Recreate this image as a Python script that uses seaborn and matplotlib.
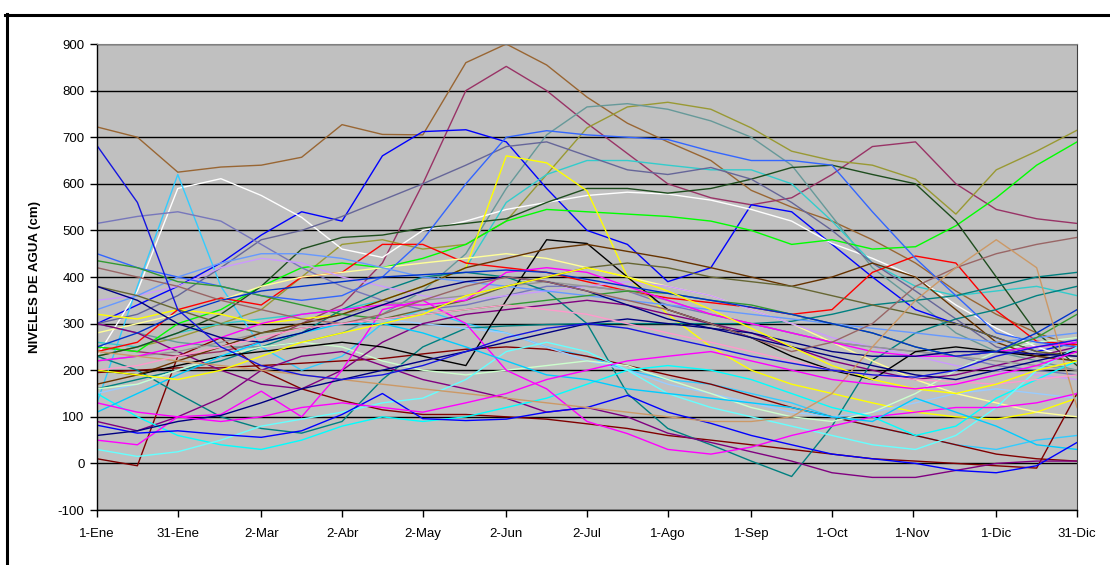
import numpy as np
import matplotlib
matplotlib.use("Agg")
import matplotlib.pyplot as plt
import pandas as pd
import seaborn as sns
from matplotlib.lines import Line2D

# dias del año en que se leyeron los niveles (cada ~15 dias)
dias = [0, 15, 30, 46, 61, 76, 91, 106, 121, 137, 152, 167, 182,
        197, 212, 228, 243, 258, 273, 288, 304, 319, 334, 349, 364]

# etiquetas del eje x
ticks_x = [0, 30, 61, 91, 121, 152, 182, 212, 243, 273, 303, 334, 364]
etiquetas_x = ['1-Ene', '31-Ene', '2-Mar', '2-Abr', '2-May', '2-Jun', '2-Jul',
               '1-Ago', '1-Sep', '1-Oct', '1-Nov', '1-Dic', '31-Dic']

# niveles de agua (cm) de cada pozo
pozo_01 = [722, 700, 625, 636, 640, 657, 727, 706, 705, 860, 900, 855, 786, 730, 690, 650, 586, 550, 520, 480, 430, 370, 320, 280, 250]
pozo_02 = [250, 240, 230, 240, 260, 300, 340, 430, 600, 800, 852, 800, 730, 665, 600, 570, 555, 570, 620, 680, 690, 600, 545, 525, 515]
pozo_03 = [230, 250, 270, 300, 330, 400, 470, 480, 460, 470, 520, 620, 720, 765, 775, 760, 720, 670, 650, 640, 610, 535, 630, 670, 715]
pozo_04 = [300, 280, 260, 250, 250, 260, 280, 320, 370, 450, 590, 705, 765, 772, 760, 735, 700, 640, 530, 420, 350, 280, 240, 220, 200]
pozo_05 = [300, 340, 380, 430, 490, 540, 520, 660, 712, 716, 690, 590, 500, 470, 390, 420, 555, 540, 470, 400, 330, 300, 270, 240, 260]
pozo_06 = [230, 370, 590, 611, 575, 528, 460, 442, 500, 520, 545, 560, 575, 582, 578, 565, 545, 520, 472, 440, 400, 340, 290, 250, 220]
pozo_07 = [130, 380, 620, 380, 250, 200, 230, 300, 330, 300, 280, 250, 230, 200, 180, 170, 150, 130, 100, 80, 60, 40, 30, 50, 60]
pozo_08 = [260, 250, 280, 300, 310, 320, 330, 350, 380, 420, 560, 620, 650, 650, 640, 630, 630, 600, 520, 430, 380, 360, 370, 380, 360]
pozo_09 = [250, 240, 300, 330, 380, 420, 430, 420, 440, 470, 520, 545, 540, 535, 530, 520, 500, 470, 480, 460, 465, 510, 570, 640, 690]
pozo_10 = [230, 250, 280, 320, 380, 460, 485, 490, 505, 515, 525, 560, 590, 590, 580, 590, 610, 635, 640, 620, 600, 520, 400, 280, 210]
pozo_11 = [300, 320, 360, 420, 480, 500, 530, 565, 600, 640, 680, 690, 660, 630, 620, 635, 610, 560, 500, 430, 370, 310, 250, 230, 220]
pozo_12 = [515, 530, 540, 520, 470, 420, 380, 350, 330, 340, 360, 380, 380, 370, 340, 320, 300, 280, 260, 250, 240, 230, 210, 200, 190]
pozo_13 = [320, 310, 330, 320, 300, 310, 320, 350, 380, 420, 660, 645, 585, 400, 320, 250, 200, 170, 150, 130, 110, 100, 95, 110, 140]
pozo_14 = [240, 260, 330, 355, 340, 400, 410, 470, 470, 430, 420, 410, 390, 370, 355, 345, 335, 320, 330, 410, 445, 430, 328, 262, 255]
pozo_15 = [10, -5, 230, 270, 200, 160, 135, 115, 105, 105, 100, 95, 85, 75, 60, 50, 40, 30, 20, 10, 5, 0, -5, -10, 150]
pozo_16 = [195, 200, 205, 205, 210, 215, 220, 225, 235, 245, 250, 245, 230, 210, 190, 170, 145, 120, 100, 80, 60, 40, 20, 10, 5]
pozo_17 = [160, 180, 200, 220, 250, 280, 330, 370, 400, 410, 400, 370, 300, 150, 75, 40, 5, -28, 80, 220, 280, 310, 330, 360, 380]
pozo_18 = [230, 200, 150, 100, 75, 65, 90, 180, 250, 290, 295, 298, 300, 300, 300, 300, 300, 305, 320, 340, 350, 360, 380, 400, 410]
pozo_19 = [150, 170, 200, 230, 260, 280, 300, 310, 300, 290, 280, 250, 220, 200, 170, 150, 130, 110, 100, 110, 130, 150, 160, 150, 140]
pozo_20 = [280, 300, 320, 350, 380, 400, 410, 420, 430, 440, 450, 440, 420, 400, 380, 360, 330, 300, 260, 220, 180, 150, 130, 110, 100]
pozo_21 = [350, 360, 380, 420, 440, 430, 400, 380, 360, 350, 360, 370, 380, 390, 380, 360, 330, 300, 270, 250, 230, 210, 200, 190, 180]
pozo_22 = [160, 170, 200, 230, 250, 260, 250, 220, 200, 190, 200, 210, 220, 210, 180, 150, 120, 100, 90, 110, 150, 200, 240, 260, 270]
pozo_23 = [300, 280, 240, 200, 170, 160, 200, 260, 300, 320, 330, 340, 350, 340, 320, 300, 280, 250, 220, 200, 180, 190, 210, 230, 250]
pozo_24 = [90, 70, 100, 140, 200, 230, 240, 210, 180, 160, 140, 110, 120, 100, 65, 45, 25, 5, -20, -30, -30, -15, 0, 5, 5]
pozo_25 = [220, 230, 240, 260, 280, 300, 320, 340, 350, 360, 380, 390, 380, 370, 350, 320, 300, 280, 260, 250, 240, 230, 220, 210, 200]
pozo_26 = [200, 190, 210, 230, 240, 250, 260, 250, 230, 210, 350, 480, 472, 400, 330, 300, 270, 230, 200, 180, 240, 250, 240, 230, 240]
pozo_27 = [170, 190, 220, 250, 280, 300, 320, 350, 380, 420, 440, 460, 470, 455, 440, 420, 400, 380, 400, 430, 400, 330, 260, 230, 220]
pozo_28 = [450, 420, 400, 380, 360, 350, 360, 400, 480, 600, 700, 714, 705, 700, 695, 670, 650, 650, 640, 540, 440, 360, 280, 260, 250]
pozo_29 = [330, 360, 400, 430, 450, 450, 440, 420, 400, 390, 380, 370, 360, 350, 340, 330, 320, 310, 300, 290, 280, 270, 260, 270, 280]
pozo_30 = [380, 360, 330, 300, 280, 290, 300, 310, 330, 350, 380, 400, 420, 430, 420, 400, 390, 380, 360, 340, 320, 300, 270, 240, 230]
pozo_31 = [435, 420, 390, 380, 360, 340, 320, 310, 320, 330, 340, 350, 360, 370, 365, 350, 340, 320, 300, 280, 250, 230, 240, 270, 320]
pozo_32 = [150, 100, 60, 40, 30, 50, 80, 100, 90, 100, 120, 140, 170, 200, 210, 200, 180, 150, 120, 100, 60, 80, 140, 180, 220]
pozo_33 = [30, 15, 25, 50, 80, 95, 110, 130, 140, 180, 240, 260, 240, 200, 150, 120, 100, 80, 60, 40, 30, 60, 120, 200, 250]
pozo_34 = [220, 230, 250, 270, 300, 320, 330, 340, 340, 350, 410, 420, 410, 380, 350, 320, 300, 280, 260, 240, 230, 230, 240, 250, 260]
pozo_35 = [50, 40, 100, 105, 155, 100, 200, 330, 350, 300, 200, 160, 90, 64, 30, 20, 35, 60, 80, 100, 110, 120, 120, 130, 150]
pozo_36 = [110, 150, 190, 230, 260, 280, 300, 300, 280, 250, 220, 190, 180, 160, 150, 140, 130, 120, 100, 90, 140, 110, 80, 40, 30]
pozo_37 = [82, 65, 70, 62, 56, 70, 105, 150, 96, 92, 95, 110, 120, 146, 110, 86, 60, 40, 20, 10, 0, -15, -20, -5, 45]
pozo_38 = [380, 350, 300, 270, 260, 280, 310, 340, 370, 390, 400, 390, 370, 340, 310, 290, 280, 260, 240, 230, 230, 240, 240, 235, 230]
pozo_39 = [250, 280, 320, 350, 370, 380, 390, 400, 405, 410, 415, 410, 395, 380, 365, 350, 335, 320, 300, 280, 250, 230, 240, 280, 330]
pozo_40 = [420, 400, 380, 350, 330, 310, 300, 320, 350, 380, 400, 390, 370, 350, 330, 300, 270, 240, 260, 300, 380, 420, 450, 470, 485]
pozo_41 = [240, 230, 220, 210, 200, 190, 180, 170, 160, 150, 140, 130, 120, 110, 100, 90, 90, 100, 150, 250, 350, 420, 480, 420, 120]
pozo_42 = [60, 70, 90, 103, 130, 160, 180, 200, 220, 240, 260, 280, 300, 310, 300, 290, 270, 250, 230, 210, 190, 180, 200, 220, 240]
pozo_43 = [200, 210, 230, 250, 270, 290, 300, 310, 320, 330, 340, 330, 320, 300, 280, 260, 240, 220, 200, 190, 180, 175, 170, 180, 190]
pozo_44 = [200, 190, 180, 200, 230, 260, 280, 300, 320, 360, 380, 400, 420, 400, 370, 330, 290, 250, 210, 180, 160, 150, 170, 200, 220]
pozo_45 = [130, 110, 100, 90, 100, 120, 130, 120, 110, 130, 150, 180, 200, 220, 230, 240, 220, 200, 180, 170, 160, 170, 190, 210, 240]
pozo_46 = [682, 560, 330, 250, 210, 190, 180, 190, 210, 240, 270, 290, 300, 290, 270, 250, 230, 215, 200, 190, 185, 200, 230, 250, 265]

pozos = [pozo_01, pozo_02, pozo_03, pozo_04, pozo_05, pozo_06, pozo_07, pozo_08, pozo_09,
         pozo_10, pozo_11, pozo_12, pozo_13, pozo_14, pozo_15, pozo_16, pozo_17, pozo_18,
         pozo_19, pozo_20, pozo_21, pozo_22, pozo_23, pozo_24, pozo_25, pozo_26, pozo_27,
         pozo_28, pozo_29, pozo_30, pozo_31, pozo_32, pozo_33, pozo_34, pozo_35, pozo_36,
         pozo_37, pozo_38, pozo_39, pozo_40, pozo_41, pozo_42, pozo_43, pozo_44, pozo_45,
         pozo_46]

colores = ['#996633', '#993366', '#999933', '#669999', '#0000FF', '#FFFFFF', '#33CCFF', '#33CCCC',
           '#00FF00', '#1E4D1E', '#666699', '#7777BB', '#FFFF00', '#FF0000', '#800000', '#800000',
           '#008080', '#008080', '#99CCFF', '#FFFF99', '#CC99FF', '#CCFFCC', '#800080', '#800080',
           '#969696', '#000000', '#663300', '#3366FF', '#6699FF', '#666633', '#339933', '#00FFFF',
           '#66FFFF', '#FF00FF', '#FF00FF', '#00CCFF', '#0000FF', '#000080', '#0033CC', '#996666',
           '#CC9966', '#000080', '#FF99CC', '#FFFF00', '#FF00FF', '#1515E0']

# tabla larga para seaborn
filas = []
for i, niveles in enumerate(pozos):
    for d, v in zip(dias, niveles):
        filas.append({'pozo': 'P%02d' % (i + 1), 'dia': d, 'nivel': v})
datos = pd.DataFrame(filas)
paleta = {'P%02d' % (i + 1): c for i, c in enumerate(colores)}

plt.rcParams['font.family'] = ['Liberation Sans', 'DejaVu Sans']
plt.rcParams['axes.unicode_minus'] = False

fig = plt.figure(figsize=(11.1, 5.65), dpi=100)
ax = fig.add_axes([0.0874, 0.0973, 0.8829, 0.8248])
ax.set_facecolor('#C0C0C0')

sns.lineplot(data=datos, x='dia', y='nivel', hue='pozo', palette=paleta,
             estimator=None, sort=False, legend=False, linewidth=1.0, ax=ax)

ax.set_xlim(0, 364)
ax.set_ylim(-100, 900)
ax.set_yticks(range(-100, 1000, 100))
ax.set_xticks(ticks_x)
ax.set_xticklabels(etiquetas_x)
ax.yaxis.grid(True, color='black', linewidth=1.0)
ax.xaxis.grid(False)
ax.set_axisbelow(True)
ax.tick_params(axis='both', direction='out', length=5, width=1, colors='black',
               labelsize=9.5, pad=4)
ax.tick_params(axis='x', pad=8)
ax.set_xlabel('')
ax.set_ylabel('NIVELES DE AGUA (cm)', fontsize=9.5, fontweight='bold', labelpad=12)

for lado in ['left', 'bottom']:
    ax.spines[lado].set_color('black')
    ax.spines[lado].set_linewidth(1)
ax.spines['top'].set_color('#808080')
ax.spines['right'].set_color('#404040')

# marco negro del grafico
fig.add_artist(Line2D([5 / 1110, 1.0], [1 - 14.5 / 565, 1 - 14.5 / 565], color='black', linewidth=2.2))
fig.add_artist(Line2D([6.5 / 1110, 6.5 / 1110], [0.0, 1 - 13.5 / 565], color='black', linewidth=2.2))

fig.savefig('out.png', dpi=100)
